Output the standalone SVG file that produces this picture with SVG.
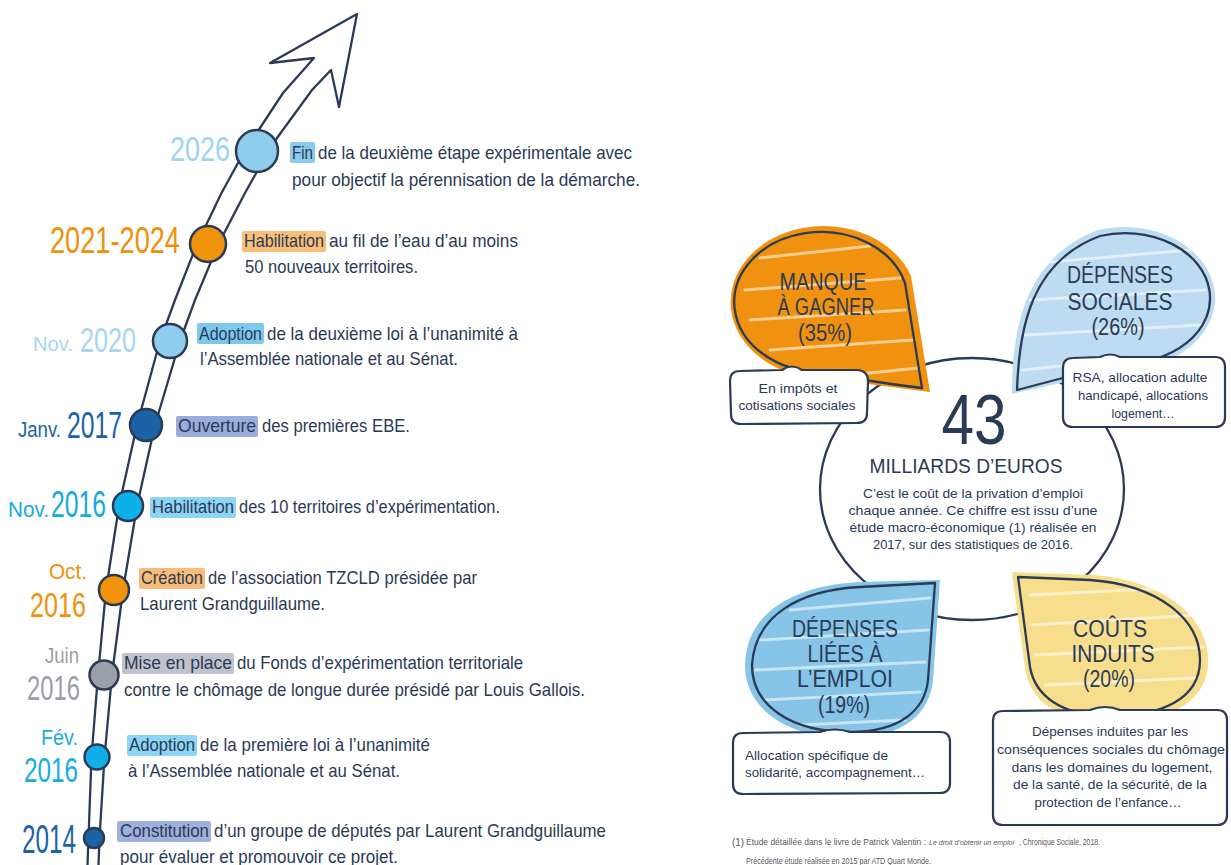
<svg xmlns="http://www.w3.org/2000/svg" width="1231" height="865" viewBox="0 0 1231 865">
<style>
.t{font-family:"Liberation Sans",Arial,sans-serif;font-size:19px;fill:#2b3a55}
.y{font-family:"Liberation Sans",Arial,sans-serif}
.ol{fill:none;stroke:#2b3a55;stroke-width:2.3;stroke-linejoin:round;stroke-linecap:round}
.dot{stroke:#2b3a55;stroke-width:2.5}
.hl{opacity:0.9}
.bt{font-family:"Liberation Sans",Arial,sans-serif;font-size:23px;fill:#2b3a55;text-anchor:middle}
.ct{font-family:"Liberation Sans",Arial,sans-serif;font-size:13px;fill:#2b3a55;text-anchor:middle}
.box{fill:#ffffff;stroke:#2b3a55;stroke-width:2.2;stroke-linejoin:round}
.streak{fill:none;stroke:#ffffff;stroke-width:3;stroke-linecap:round;opacity:0.55}
.fn{font-family:"Liberation Sans",Arial,sans-serif;font-size:8.5px;fill:#555a63}
</style>
<rect width="1231" height="865" fill="#ffffff"/>

<!-- timeline road + arrow -->
<g id="connectors">
<path class="ol" d="M 87.5,865 L 88.5,838 L 91.5,757 L 98,675 L 106,590 L 119,506 L 137,425 L 160,341 L 175,300 L 197,244 L 221.5,193 L 244,152 L 258,131 L 283,93 L 314,58 L 270,63 L 357,14 L 339,107 L 331,70 L 312,90 L 277,138 L 268,152 L 245,193 L 218.5,244 L 195,300 L 180,341 L 155,425 L 137,506 L 123,590 L 112,675 L 104.5,757 L 99.5,838 L 98.5,865"/>
</g>

<g id="n2026">
<circle class="dot" cx="257" cy="151" r="21" fill="#8ecdee"/>
<text class="y" x="170" y="161" font-size="35" fill="#9fd4f0" textLength="60" lengthAdjust="spacingAndGlyphs">2026</text>
<rect class="hl" x="290" y="142" width="25" height="21" rx="2" fill="#7cc4ec"/>
<text class="t" x="292" y="159" textLength="21" lengthAdjust="spacingAndGlyphs">Fin</text>
<text class="t" x="318" y="159" textLength="314" lengthAdjust="spacingAndGlyphs">de la deuxième étape expérimentale avec</text>
<text class="t" x="292" y="186" textLength="348" lengthAdjust="spacingAndGlyphs">pour objectif la pérennisation de la démarche.</text>
</g>

<g id="n2021">
<circle class="dot" cx="208" cy="244" r="18" fill="#f0920a"/>
<text class="y" x="50" y="253" font-size="36" fill="#f0900a" textLength="130" lengthAdjust="spacingAndGlyphs">2021-2024</text>
<rect class="hl" x="242" y="231" width="84" height="21" rx="2" fill="#f8b86a"/>
<text class="t" x="244" y="247" textLength="80" lengthAdjust="spacingAndGlyphs">Habilitation</text>
<text class="t" x="329" y="247" textLength="189" lengthAdjust="spacingAndGlyphs">au fil de l’eau d’au moins</text>
<text class="t" x="245" y="273" textLength="173" lengthAdjust="spacingAndGlyphs">50 nouveaux territoires.</text>
</g>

<g id="n2020">
<circle class="dot" cx="170" cy="341" r="17" fill="#8ecdee"/>
<text class="y" x="33" y="351" font-size="21" fill="#a5d6f0" textLength="40" lengthAdjust="spacingAndGlyphs">Nov.</text>
<text class="y" x="80" y="352" font-size="35" fill="#a5d6f0" textLength="56" lengthAdjust="spacingAndGlyphs">2020</text>
<rect class="hl" x="197" y="323" width="67" height="21" rx="2" fill="#6fc3ec"/>
<text class="t" x="199" y="340" textLength="63" lengthAdjust="spacingAndGlyphs">Adoption</text>
<text class="t" x="267" y="340" textLength="251" lengthAdjust="spacingAndGlyphs">de la deuxième loi à l’unanimité à</text>
<text class="t" x="200" y="365" textLength="258" lengthAdjust="spacingAndGlyphs">l’Assemblée nationale et au Sénat.</text>
</g>

<g id="n2017">
<circle class="dot" cx="146" cy="425" r="16" fill="#1b62a6"/>
<text class="y" x="18" y="437" font-size="22" fill="#1a63a8" textLength="43" lengthAdjust="spacingAndGlyphs">Janv.</text>
<text class="y" x="67" y="438" font-size="37" fill="#1a63a8" textLength="55" lengthAdjust="spacingAndGlyphs">2017</text>
<rect class="hl" x="176" y="416" width="82" height="21" rx="2" fill="#8fa3d8"/>
<text class="t" x="178" y="432" textLength="78" lengthAdjust="spacingAndGlyphs">Ouverture</text>
<text class="t" x="262" y="432" textLength="148" lengthAdjust="spacingAndGlyphs">des premières EBE.</text>
</g>

<g id="nNov2016">
<circle class="dot" cx="128" cy="506" r="15" fill="#0fb0ea"/>
<text class="y" x="8" y="517" font-size="22" fill="#14aae2" textLength="41" lengthAdjust="spacingAndGlyphs">Nov.</text>
<text class="y" x="51" y="517" font-size="37" fill="#14aae2" textLength="55" lengthAdjust="spacingAndGlyphs">2016</text>
<rect class="hl" x="150" y="497" width="86" height="21" rx="2" fill="#7fd0f3"/>
<text class="t" x="152" y="513" textLength="82" lengthAdjust="spacingAndGlyphs">Habilitation</text>
<text class="t" x="239" y="513" textLength="261" lengthAdjust="spacingAndGlyphs">des 10 territoires d’expérimentation.</text>
</g>

<g id="nOct2016">
<circle class="dot" cx="114" cy="590" r="15" fill="#f0920a"/>
<text class="y" x="49" y="579" font-size="22" fill="#f0920f" textLength="38" lengthAdjust="spacingAndGlyphs">Oct.</text>
<text class="y" x="30" y="617" font-size="35" fill="#f0920f" textLength="56" lengthAdjust="spacingAndGlyphs">2016</text>
<rect class="hl" x="139" y="568" width="66" height="21" rx="2" fill="#f7b56a"/>
<text class="t" x="141" y="584" textLength="62" lengthAdjust="spacingAndGlyphs">Création</text>
<text class="t" x="208" y="584" textLength="269" lengthAdjust="spacingAndGlyphs">de l’association TZCLD présidée par</text>
<text class="t" x="140" y="610" textLength="185" lengthAdjust="spacingAndGlyphs">Laurent Grandguillaume.</text>
</g>

<g id="nJuin2016">
<circle class="dot" cx="104" cy="675" r="14.5" fill="#9aa0a8"/>
<text class="y" x="45" y="663" font-size="22" fill="#9a9fa6" textLength="34" lengthAdjust="spacingAndGlyphs">Juin</text>
<text class="y" x="27" y="700" font-size="35" fill="#9a9fa6" textLength="53" lengthAdjust="spacingAndGlyphs">2016</text>
<rect class="hl" x="122" y="653" width="112" height="21" rx="2" fill="#b9bdc5"/>
<text class="t" x="124" y="669" textLength="108" lengthAdjust="spacingAndGlyphs">Mise en place</text>
<text class="t" x="237" y="669" textLength="286" lengthAdjust="spacingAndGlyphs">du Fonds d’expérimentation territoriale</text>
<text class="t" x="124" y="696" textLength="461" lengthAdjust="spacingAndGlyphs">contre le chômage de longue durée présidé par Louis Gallois.</text>
</g>

<g id="nFev2016">
<circle class="dot" cx="97" cy="757" r="12.5" fill="#0fb0ea"/>
<text class="y" x="41" y="745" font-size="22" fill="#17ace4" textLength="37" lengthAdjust="spacingAndGlyphs">Fév.</text>
<text class="y" x="24" y="782" font-size="35" fill="#17ace4" textLength="54" lengthAdjust="spacingAndGlyphs">2016</text>
<rect class="hl" x="127" y="735" width="70" height="21" rx="2" fill="#7fd0f3"/>
<text class="t" x="129" y="751" textLength="66" lengthAdjust="spacingAndGlyphs">Adoption</text>
<text class="t" x="200" y="751" textLength="230" lengthAdjust="spacingAndGlyphs">de la première loi à l’unanimité</text>
<text class="t" x="128" y="777" textLength="272" lengthAdjust="spacingAndGlyphs">à l’Assemblée nationale et au Sénat.</text>
</g>

<g id="n2014">
<circle class="dot" cx="94" cy="838" r="10" fill="#1b62a6"/>
<text class="y" x="22" y="853" font-size="40" fill="#1a64a9" textLength="54" lengthAdjust="spacingAndGlyphs">2014</text>
<rect class="hl" x="117" y="821" width="94" height="21" rx="2" fill="#93a7d8"/>
<text class="t" x="120" y="837" textLength="89" lengthAdjust="spacingAndGlyphs">Constitution</text>
<text class="t" x="214" y="837" textLength="392" lengthAdjust="spacingAndGlyphs">d’un groupe de députés par Laurent Grandguillaume</text>
<text class="t" x="120" y="863" textLength="278" lengthAdjust="spacingAndGlyphs">pour évaluer et promouvoir ce projet.</text>
</g>

<!-- right diagram -->
<g id="center">
<ellipse cx="972" cy="489" rx="152" ry="131" class="ol"/>
<text x="974" y="444" font-family="'Liberation Sans',Arial,sans-serif" font-size="70" font-weight="300" fill="#2b3a55" text-anchor="middle" textLength="65" lengthAdjust="spacingAndGlyphs">43</text>
<text x="966" y="473" font-family="'Liberation Sans',Arial,sans-serif" font-size="20" fill="#2b3a55" text-anchor="middle" textLength="193" lengthAdjust="spacingAndGlyphs">MILLIARDS D’EUROS</text>
<text class="ct" x="973" y="498" textLength="220" lengthAdjust="spacingAndGlyphs">C’est le coût de la privation d’emploi</text>
<text class="ct" x="973" y="515" textLength="249" lengthAdjust="spacingAndGlyphs">chaque année. Ce chiffre est issu d’une</text>
<text class="ct" x="973" y="532" textLength="247" lengthAdjust="spacingAndGlyphs">étude macro-économique (1) réalisée en</text>
<text class="ct" x="973" y="549" textLength="200" lengthAdjust="spacingAndGlyphs">2017, sur des statistiques de 2016.</text>
</g>

<g id="manque">
<path d="M 911,276 L 930,392 L 822,378 A 93 76 0 1 1 911,276 Z" fill="#f0920f"/>
<path class="streak" d="M 760,258 L 870,246 M 745,290 L 900,278 M 750,320 L 905,310 M 770,350 L 912,340 M 860,374 L 918,368"/>
<path class="ol" d="M 905,283 L 922,388 Q 870,382 822,372 A 87 70 0 1 1 905,283 Z"/>
<text class="bt" x="823" y="290" textLength="87" lengthAdjust="spacingAndGlyphs">MANQUE</text>
<text class="bt" x="826" y="315" textLength="97" lengthAdjust="spacingAndGlyphs">À GAGNER</text>
<text class="bt" x="825" y="341" textLength="54" lengthAdjust="spacingAndGlyphs">(35%)</text>
<path class="box" d="M 740,371 L 782,370 Q 792,363 802,370 L 858,370 Q 868,371 868,381 L 867,413 Q 867,423 857,423 L 741,424 Q 731,424 731,414 L 730,381 Q 730,371 740,371 Z"/>
<text class="ct" x="798" y="393" textLength="79" lengthAdjust="spacingAndGlyphs">En impôts et</text>
<text class="ct" x="797" y="410" textLength="117" lengthAdjust="spacingAndGlyphs">cotisations sociales</text>
</g>

<g id="sociales">
<path d="M 1012,394 C 1012,330 1024,258 1098,230 A 91 71 0 1 1 1122,369 Z" fill="#bddbf1"/>
<path class="streak" d="M 1050,262 L 1190,250 M 1030,300 L 1205,290 M 1025,335 L 1200,325 M 1022,370 L 1120,360"/>
<path class="ol" d="M 1017,390 C 1019,330 1030,262 1100,236 A 85 65 0 1 1 1120,363 Z"/>
<text class="bt" x="1120" y="283" textLength="106" lengthAdjust="spacingAndGlyphs">DÉPENSES</text>
<text class="bt" x="1120" y="310" textLength="105" lengthAdjust="spacingAndGlyphs">SOCIALES</text>
<text class="bt" x="1118" y="335" textLength="53" lengthAdjust="spacingAndGlyphs">(26%)</text>
<path class="box" d="M 1073,358 L 1100,357 Q 1110,352 1120,357 L 1215,357 Q 1225,357 1225,367 L 1225,417 Q 1225,427 1215,427 L 1073,427 Q 1063,427 1063,417 L 1063,368 Q 1063,358 1073,358 Z"/>
<text class="ct" x="1140" y="382" textLength="135" lengthAdjust="spacingAndGlyphs">RSA, allocation adulte</text>
<text class="ct" x="1143" y="400" textLength="130" lengthAdjust="spacingAndGlyphs">handicapé, allocations</text>
<text class="ct" x="1143" y="418" textLength="63" lengthAdjust="spacingAndGlyphs">logement…</text>
</g>

<g id="emploi">
<path d="M 940,580 L 860,582 C 795,585 746,612 745,665 C 745,710 788,738 850,738 C 905,738 930,712 933,680 Z" fill="#86c5e7"/>
<path class="streak" d="M 790,610 L 930,598 M 760,640 L 928,630 M 755,670 L 925,662 M 765,700 L 920,692 M 800,725 L 905,720"/>
<path class="ol" d="M 935,583 L 860,587 C 800,590 755,615 752,665 C 752,705 790,732 850,732 C 900,732 925,710 928,680 Z"/>
<text class="bt" x="845" y="637" textLength="106" lengthAdjust="spacingAndGlyphs">DÉPENSES</text>
<text class="bt" x="845" y="662" textLength="75" lengthAdjust="spacingAndGlyphs">LIÉES À</text>
<text class="bt" x="845" y="687" textLength="96" lengthAdjust="spacingAndGlyphs">L’EMPLOI</text>
<text class="bt" x="844" y="713" textLength="52" lengthAdjust="spacingAndGlyphs">(19%)</text>
<path class="box" d="M 743,733 L 820,732 Q 835,727 850,732 L 940,732 Q 950,732 950,742 L 950,783 Q 950,793 940,793 L 743,794 Q 733,794 733,784 L 733,743 Q 733,733 743,733 Z"/>
<text class="ct" x="745" y="760" style="text-anchor:start" textLength="143" lengthAdjust="spacingAndGlyphs">Allocation spécifique de</text>
<text class="ct" x="745" y="777" style="text-anchor:start" textLength="180" lengthAdjust="spacingAndGlyphs">solidarité, accompagnement…</text>
</g>

<g id="induits">
<path d="M 1012,572 L 1092,575 C 1165,580 1208,618 1208,660 C 1208,705 1165,722 1110,722 C 1055,722 1030,700 1025,668 Z" fill="#f6de8d"/>
<path class="streak" d="M 1030,595 L 1170,588 M 1032,625 L 1198,615 M 1035,655 L 1203,647 M 1045,685 L 1195,678"/>
<path class="ol" d="M 1018,577 L 1090,580 C 1160,585 1200,620 1200,660 C 1200,700 1160,716 1110,716 C 1060,716 1035,695 1030,667 Z"/>
<text class="bt" x="1110" y="637" textLength="74" lengthAdjust="spacingAndGlyphs">COÛTS</text>
<text class="bt" x="1113" y="662" textLength="83" lengthAdjust="spacingAndGlyphs">INDUITS</text>
<text class="bt" x="1109" y="687" textLength="52" lengthAdjust="spacingAndGlyphs">(20%)</text>
<path class="box" d="M 1003,711 L 1090,710 Q 1105,704 1120,710 L 1217,710 Q 1227,710 1227,720 L 1227,815 Q 1227,825 1217,825 L 1003,825 Q 993,825 993,815 L 993,721 Q 993,711 1003,711 Z"/>
<text class="ct" x="1110" y="736" textLength="156" lengthAdjust="spacingAndGlyphs">Dépenses induites par les</text>
<text class="ct" x="1111" y="754" textLength="228" lengthAdjust="spacingAndGlyphs">conséquences sociales du chômage</text>
<text class="ct" x="1112" y="772" textLength="201" lengthAdjust="spacingAndGlyphs">dans les domaines du logement,</text>
<text class="ct" x="1110" y="789" textLength="194" lengthAdjust="spacingAndGlyphs">de la santé, de la sécurité, de la</text>
<text class="ct" x="1108" y="807" textLength="147" lengthAdjust="spacingAndGlyphs">protection de l’enfance…</text>
</g>

<g id="footnote">
<text class="fn" x="732" y="846" style="font-size:11px" textLength="12" lengthAdjust="spacingAndGlyphs">(1)</text>
<text class="fn" x="746" y="845" textLength="180" lengthAdjust="spacingAndGlyphs">Étude détaillée dans le livre de Patrick Valentin :</text>
<text class="fn" x="929" y="845" style="font-size:7.1px;font-style:italic" textLength="85" lengthAdjust="spacingAndGlyphs">Le droit d’obtenir un emploi</text>
<text class="fn" x="1019" y="845" textLength="81" lengthAdjust="spacingAndGlyphs">, Chronique Sociale, 2018.</text>
<text class="fn" x="746" y="864" textLength="185" lengthAdjust="spacingAndGlyphs">Précédente étude réalisée en 2015 par ATD Quart Monde.</text>
</g>
</svg>
